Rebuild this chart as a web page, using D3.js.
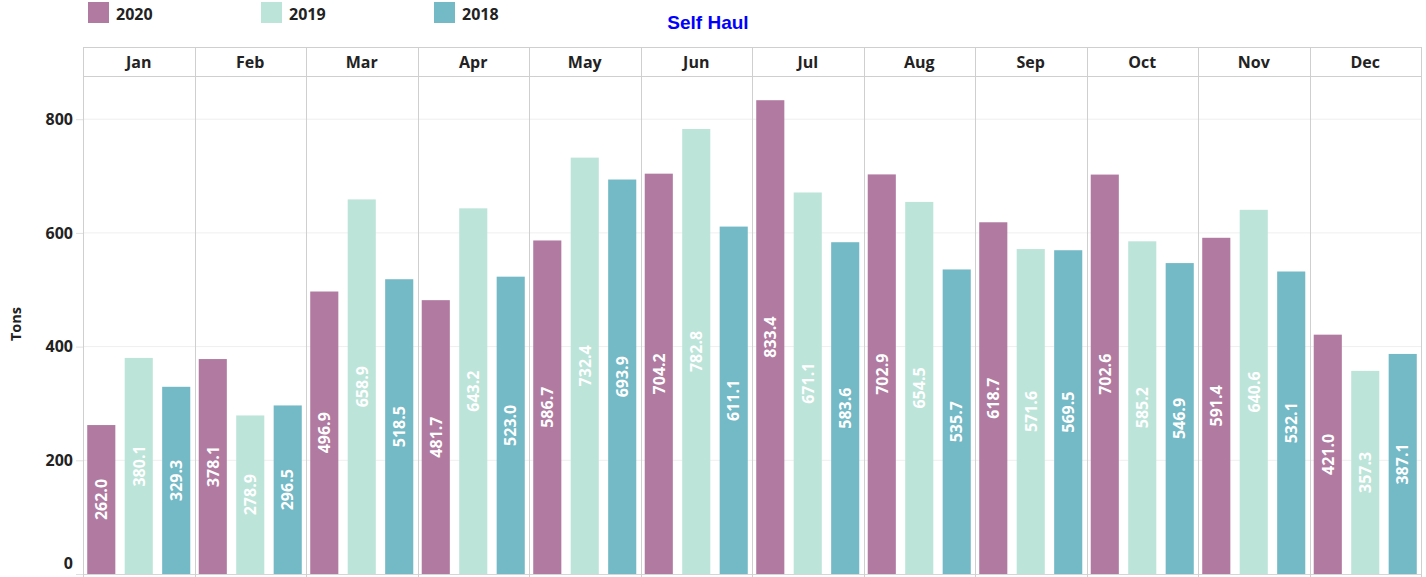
<!DOCTYPE html>
<html>
<head>
<meta charset="utf-8">
<script src="https://cdn.jsdelivr.net/npm/d3@7"></script>
<style>
  html, body { margin: 0; padding: 0; background: #fff; }
  svg { display: block; font-family: "Open Sans", Lato, sans-serif; }
</style>
</head>
<body>
<svg id="chart" width="1426" height="577"></svg>
<script>
(function() {
    'use strict';

    // Data
    const months = ['Jan', 'Feb', 'Mar', 'Apr', 'May', 'Jun', 'Jul', 'Aug', 'Sep', 'Oct', 'Nov', 'Dec'];
    const years = ['2020', '2019', '2018'];
    const values2020 = [262.0, 378.1, 496.9, 481.7, 586.7, 704.2, 833.4, 702.9, 618.7, 702.6, 591.4, 421.0];
    const values2019 = [380.1, 278.9, 658.9, 643.2, 732.4, 782.8, 671.1, 654.5, 571.6, 585.2, 640.6, 357.3];
    const values2018 = [329.3, 296.5, 518.5, 523.0, 693.9, 611.1, 583.6, 535.7, 569.5, 546.9, 532.1, 387.1];
    const yTicks = [0, 200, 400, 600, 800];

    const colors = { '2020': '#b07aa1', '2019': '#bde4d9', '2018': '#73b9c6' };
    const seriesByYear = { '2020': values2020, '2019': values2019, '2018': values2018 };

    const data = months.map((m, i) => ({
        month: m,
        values: years.map(y => ({ year: y, value: seriesByYear[y][i] }))
    }));

    const svg = d3.select('#chart');
    const left = 83, right = 1421, headTop = 47, headBottom = 76, bottom = 574;

    const xMonth = d3.scaleBand().domain(months).range([left, right]).padding(0);
    const xYear = d3.scaleBand().domain(years).range([0, xMonth.bandwidth()])
        .paddingInner(0.25).paddingOuter(0.113);
    const y = d3.scaleLinear().domain([0, 876]).range([bottom, headBottom]);

    // Gridlines
    svg.append('g')
        .selectAll('line')
        .data(yTicks.filter(t => t > 0))
        .enter().append('line')
        .attr('x1', left).attr('x2', right)
        .attr('y1', d => y(d)).attr('y2', d => y(d))
        .attr('stroke', '#efefef').attr('stroke-width', 1);

    // Y axis
    const yAxis = svg.append('g')
        .attr('transform', `translate(${left},0)`)
        .call(d3.axisLeft(y).tickValues(yTicks).tickSize(7).tickPadding(3).tickFormat(d3.format('d')));
    yAxis.select('.domain').remove();
    yAxis.selectAll('line').attr('stroke', '#e0e0e0');
    yAxis.selectAll('text')
        .attr('fill', '#222')
        .style('font-size', '16px')
        .style('font-weight', 'bold')
        .style('font-family', '"Open Sans", sans-serif')
        .attr('dy', d => d === 0 ? '-0.35em' : '0.32em');

    svg.append('text')
        .attr('transform', 'translate(21,324) rotate(-90)')
        .attr('text-anchor', 'middle')
        .attr('fill', '#222')
        .style('font-size', '14.5px')
        .style('font-weight', 'bold')
        .text('Tons');

    // Bars
    const groups = svg.selectAll('.month')
        .data(data)
        .enter().append('g')
        .attr('class', 'month')
        .attr('transform', d => `translate(${xMonth(d.month)},0)`);

    groups.selectAll('rect')
        .data(d => d.values)
        .enter().append('rect')
        .attr('x', d => xYear(d.year))
        .attr('width', xYear.bandwidth())
        .attr('y', d => y(d.value))
        .attr('height', d => y(0) - y(d.value))
        .attr('fill', d => colors[d.year]);

    groups.selectAll('.bar-label')
        .data(d => d.values)
        .enter().append('text')
        .attr('class', 'bar-label')
        .attr('transform', d => {
            const cx = xYear(d.year) + xYear.bandwidth() / 2;
            const cy = (y(d.value) + y(0)) / 2;
            return `translate(${cx},${cy}) rotate(-90)`;
        })
        .attr('text-anchor', 'middle')
        .attr('dy', '0.36em')
        .attr('fill', '#fff')
        .style('font-size', '16px')
        .style('font-weight', 'bold')
        .text(d => d3.format('.1f')(d.value));

    // Header row and panel dividers
    const lineColor = '#cfcfcf';
    svg.append('line')
        .attr('x1', left).attr('x2', right)
        .attr('y1', headTop + 0.5).attr('y2', headTop + 0.5)
        .attr('stroke', lineColor);
    svg.append('line')
        .attr('x1', left).attr('x2', right)
        .attr('y1', headBottom + 0.5).attr('y2', headBottom + 0.5)
        .attr('stroke', lineColor);
    svg.append('line')
        .attr('x1', left).attr('x2', right)
        .attr('y1', bottom + 0.5).attr('y2', bottom + 0.5)
        .attr('stroke', '#d6d6d6');

    const dividers = months.map(m => xMonth(m)).concat([right]);
    svg.append('g')
        .selectAll('line')
        .data(dividers)
        .enter().append('line')
        .attr('x1', d => Math.round(d) + 0.5).attr('x2', d => Math.round(d) + 0.5)
        .attr('y1', headTop).attr('y2', 577)
        .attr('stroke', lineColor);

    svg.append('g')
        .selectAll('text')
        .data(months)
        .enter().append('text')
        .attr('x', d => xMonth(d) + xMonth.bandwidth() / 2)
        .attr('y', 62)
        .attr('dy', '0.35em')
        .attr('text-anchor', 'middle')
        .attr('fill', '#222')
        .style('font-size', '16px')
        .style('font-weight', 'bold')
        .text(d => d);

    // Legend
    const legendX = [88, 261, 434];
    const legend = svg.append('g')
        .selectAll('g')
        .data(years)
        .enter().append('g')
        .attr('transform', (d, i) => `translate(${legendX[i]},2)`);
    legend.append('rect')
        .attr('width', 21).attr('height', 21)
        .attr('fill', d => colors[d]);
    legend.append('text')
        .attr('x', 28).attr('y', 12)
        .attr('dy', '0.35em')
        .attr('fill', '#222')
        .style('font-size', '16px')
        .style('font-weight', 'bold')
        .text(d => d);

    // Title
    svg.append('text')
        .attr('x', 708).attr('y', 29)
        .attr('text-anchor', 'middle')
        .attr('fill', '#0000ff')
        .style('font-family', '"Liberation Sans", Arial, sans-serif')
        .style('font-size', '19px')
        .style('font-weight', 'bold')
        .text('Self Haul');
})();
</script>
</body>
</html>
